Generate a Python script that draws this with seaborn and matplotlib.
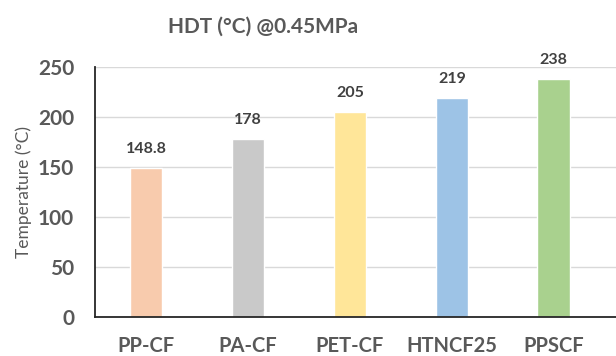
import matplotlib
matplotlib.use("Agg")
import matplotlib.pyplot as plt
import seaborn as sns
import pandas as pd

materials = ["PP-CF", "PA-CF", "PET-CF", "HTNCF25", "PPSCF"]
hdt_values = [148.8, 178, 205, 219, 238]
value_labels = ["148.8", "178", "205", "219", "238"]
bar_colors = ["#F8CBAD", "#C9C9C9", "#FFE699", "#9DC3E6", "#A9D18E"]
y_ticks = [0, 50, 100, 150, 200, 250]

df = pd.DataFrame({"material": materials, "hdt": hdt_values})

sns.set_theme(style="white")
plt.rcParams["font.family"] = ["Lato", "DejaVu Sans"]

fig = plt.figure(figsize=(6.16, 3.56), dpi=100)
ax = fig.add_axes([95 / 616, 39 / 356, 521 / 616, 250 / 356])

sns.barplot(data=df, x="material", y="hdt", hue="material",
            palette=bar_colors, width=0.32, legend=False, ax=ax,
            saturation=1)

ax.set_ylim(0, 250)
ax.set_xlim(-0.5, 4.61)
ax.set_yticks(y_ticks)
ax.yaxis.grid(True, color="#D9D9D9", linewidth=1.0)
ax.set_axisbelow(True)

for s in ["top", "right"]:
    ax.spines[s].set_visible(False)
for s in ["left", "bottom"]:
    ax.spines[s].set_color("#262626")
    ax.spines[s].set_linewidth(1.3)

ax.tick_params(axis="y", length=0, pad=15)
for lbl in ax.get_yticklabels():
    lbl.set_fontsize(15)
    lbl.set_fontweight("bold")
    lbl.set_color("#595959")
ax.tick_params(axis="x", length=0, pad=14)
for lbl in ax.get_xticklabels():
    lbl.set_fontsize(14.5)
    lbl.set_fontweight("bold")
    lbl.set_color("#595959")

ax.set_xlabel("")
ax.set_ylabel("Temperature (°C)", fontsize=12.5, color="#595959", labelpad=4)

for i, (v, t) in enumerate(zip(hdt_values, value_labels)):
    ax.annotate(t, (i, v), xytext=(0, 19), textcoords="offset pixels",
                ha="center", va="center", fontsize=11.5, fontweight="bold",
                color="#404040")

fig.text(263 / 616, 1 - 27 / 356, "HDT (°C) @0.45MPa", ha="center", va="center",
         fontsize=15, fontweight="bold", color="#595959")

fig.savefig("out.png", dpi=100)
